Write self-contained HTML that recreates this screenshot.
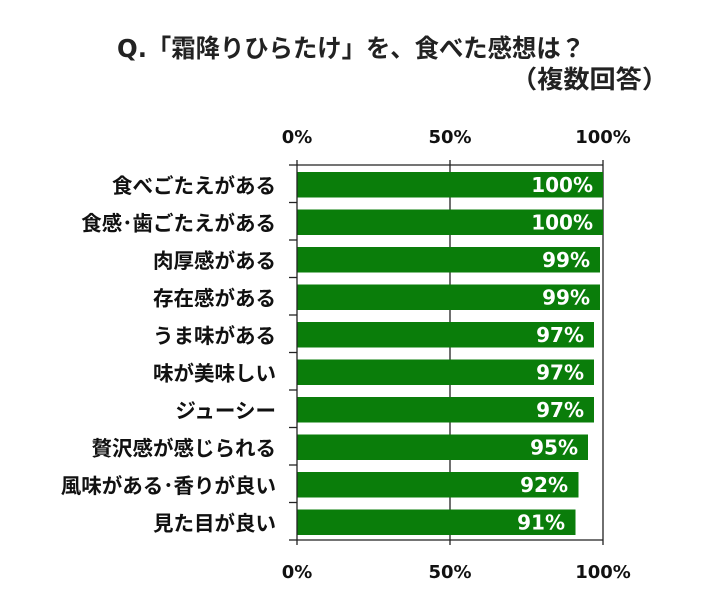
<!DOCTYPE html>
<html><head><meta charset="utf-8"><style>
body{margin:0;background:#fff;}
svg text{font-family:"DejaVu Sans","Noto Sans CJK JP",sans-serif;font-weight:bold;}
svg .j{font-family:"Noto Sans CJK JP",sans-serif;}
</style></head><body>
<svg width="720" height="609" xmlns="http://www.w3.org/2000/svg">
<rect width="720" height="609" fill="#fff"/>
<text x="117" y="57" font-size="25" fill="#222" textLength="468" lengthAdjust="spacingAndGlyphs">Q.「霜降りひらたけ」を、食べた感想は？</text>
<text x="511" y="88" font-size="25" fill="#222" class="j" textLength="157" lengthAdjust="spacingAndGlyphs">（複数回答）</text>
<g font-size="18" fill="#111" text-anchor="middle">
<text x="297" y="143">0%</text><text x="450" y="143">50%</text><text x="603" y="143">100%</text>
<text x="297" y="578">0%</text><text x="450" y="578">50%</text><text x="603" y="578">100%</text>
</g>
<g stroke="#222" stroke-width="1.3" fill="none">
<line x1="297" y1="165" x2="603" y2="165"/>
<line x1="297" y1="540" x2="603" y2="540"/>
<line x1="450" y1="160" x2="450" y2="545"/>
<line x1="603" y1="160" x2="603" y2="545"/>
</g>
<g fill="#0a7d0a">
<rect x="297" y="172" width="306" height="25.5"/>
<rect x="297" y="209.5" width="306" height="25.5"/>
<rect x="297" y="247" width="303" height="25.5"/>
<rect x="297" y="284.5" width="303" height="25.5"/>
<rect x="297" y="322" width="297" height="25.5"/>
<rect x="297" y="359.5" width="297" height="25.5"/>
<rect x="297" y="397" width="297" height="25.5"/>
<rect x="297" y="434.5" width="291" height="25.5"/>
<rect x="297" y="472" width="281.5" height="25.5"/>
<rect x="297" y="509.5" width="278.5" height="25.5"/>
</g>
<g stroke="#222" stroke-width="1.3" fill="none">
<line x1="297" y1="160" x2="297" y2="545"/>
<line x1="289" y1="165" x2="297" y2="165"/>
<line x1="289" y1="202.5" x2="297" y2="202.5"/>
<line x1="289" y1="240" x2="297" y2="240"/>
<line x1="289" y1="277.5" x2="297" y2="277.5"/>
<line x1="289" y1="315" x2="297" y2="315"/>
<line x1="289" y1="352.5" x2="297" y2="352.5"/>
<line x1="289" y1="390" x2="297" y2="390"/>
<line x1="289" y1="427.5" x2="297" y2="427.5"/>
<line x1="289" y1="465" x2="297" y2="465"/>
<line x1="289" y1="502.5" x2="297" y2="502.5"/>
<line x1="289" y1="540" x2="297" y2="540"/>
</g>
<g font-size="20" fill="#fff" text-anchor="end">
<text x="593" y="192">100%</text>
<text x="593" y="229.5">100%</text>
<text x="590" y="267">99%</text>
<text x="590" y="304.5">99%</text>
<text x="584" y="342">97%</text>
<text x="584" y="379.5">97%</text>
<text x="584" y="417">97%</text>
<text x="578" y="454.5">95%</text>
<text x="568" y="492">92%</text>
<text x="565" y="529.5">91%</text>
</g>
<g font-size="20.5" fill="#111" text-anchor="end" class="j">
<text x="276" y="193">食べごたえがある</text>
<text x="276" y="230.5">食感･歯ごたえがある</text>
<text x="276" y="268">肉厚感がある</text>
<text x="276" y="305.5">存在感がある</text>
<text x="276" y="343">うま味がある</text>
<text x="276" y="380.5">味が美味しい</text>
<text x="276" y="418">ジューシー</text>
<text x="276" y="455.5">贅沢感が感じられる</text>
<text x="276" y="493">風味がある･香りが良い</text>
<text x="276" y="530.5">見た目が良い</text>
</g>
</svg>
</body></html>
